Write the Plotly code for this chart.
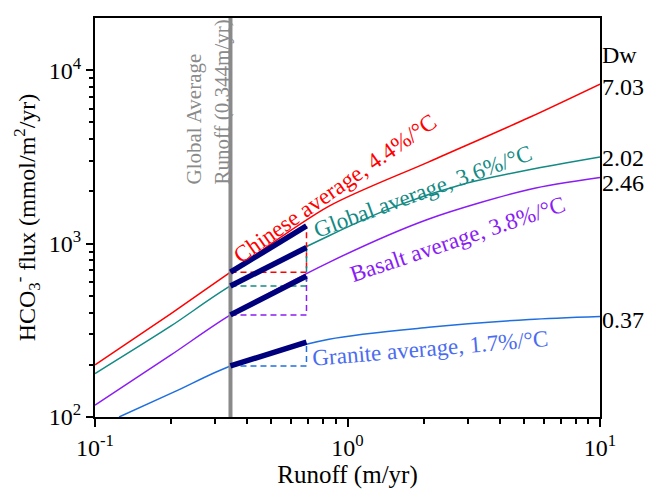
import math
import plotly.graph_objects as go

# ---------------- data ----------------
chinese_x = [0.1, 0.2, 0.344, 0.845, 2.10, 5.24, 10]
chinese_y = [200, 395, 684, 1644, 2962, 5337, 8318]

global_x = [0.1, 0.2, 0.344, 0.845, 1.556, 2.84, 5.24, 10]
global_y = [178, 335, 570, 1110, 1644, 2193, 2668, 3162]

basalt_x = [0.1, 0.2, 0.344, 0.845, 2.10, 5.24, 10]
basalt_y = [117, 228, 388, 780, 1387, 2053, 2404]

granite_x = [0.1245, 0.209, 0.344, 0.845, 2.10, 5.24, 10]
granite_y = [100, 141, 197, 281, 329, 365, 380]

series_names = ["Chinese average, 4.4%/°C", "Global average, 3.6%/°C",
                "Basalt average, 3.8%/°C", "Granite average, 1.7%/°C"]
dw_labels = ["7.03", "2.02", "2.46", "0.37"]

runoff_global = 0.344          # global average runoff (m/yr)
runoff_double = 0.688          # end of the highlighted segment
seg_start = [684, 570, 388, 197]
seg_end = [1265, 949, 649, 270]

x_tickvals = [0.1, 1, 10]
x_ticktext = ["10<sup>-1</sup>", "10<sup>0</sup>", "10<sup>1</sup>"]
y_tickvals = [100, 1000, 10000]
y_ticktext = ["10<sup>2</sup>", "10<sup>3</sup>", "10<sup>4</sup>"]

# ---------------- styles ----------------
colors = ["#ff0000", "#138a84", "#8a1cf5", "#1f6fe0"]
label_colors = ["#ff0000", "#138a84", "#8a1cf5", "#4a6cf0"]
navy = "#00007d"
gray = "#8a8a8a"
FONT = "Liberation Serif"

xs = [chinese_x, global_x, basalt_x, granite_x]
ys = [chinese_y, global_y, basalt_y, granite_y]

fig = go.Figure()

# curves
for x, y, c in zip(xs, ys, colors):
    fig.add_trace(go.Scatter(x=x, y=y, mode="lines",
                             line=dict(color=c, width=1.5, shape="spline", smoothing=0.8),
                             showlegend=False, hoverinfo="skip"))

# gray vertical global-runoff line
y_lo, y_hi = 100, 20000
fig.add_trace(go.Scatter(x=[runoff_global, runoff_global], y=[y_lo, y_hi], mode="lines",
                         line=dict(color=gray, width=4), showlegend=False, hoverinfo="skip"))

# dashed boxes
for s, e, c in zip(seg_start, seg_end, colors):
    fig.add_trace(go.Scatter(x=[runoff_global, runoff_double, runoff_double],
                             y=[s, s, e], mode="lines",
                             line=dict(color=c, width=1.5, dash="6px,4px"),
                             showlegend=False, hoverinfo="skip"))

# thick navy segments
for s, e in zip(seg_start, seg_end):
    fig.add_trace(go.Scatter(x=[runoff_global, runoff_double], y=[s, e], mode="lines",
                             line=dict(color=navy, width=5.5),
                             showlegend=False, hoverinfo="skip"))

# ---------------- annotations ----------------
L, R, T, B = 95, 600, 18, 424
W, H = R - L, B - T


def px(xp, yp):
    return (xp - L) / W, (B - yp) / H


annotations = []
label_pos = [(335, 191, -35), (423, 195, -20), (457, 243, -18.5), (430, 354, -4.8)]
for name, col, (xp, yp, ang) in zip(series_names, label_colors, label_pos):
    ax_, ay_ = px(xp, yp)
    annotations.append(dict(text=name, x=ax_, y=ay_, xref="paper", yref="paper",
                            showarrow=False, textangle=ang, xanchor="center", yanchor="middle",
                            font=dict(family=FONT, size=23, color=col)))

# vertical line label
gx, gy = px(208, 104)
annotations.append(dict(text="Global Average<br>Runoff (0.344m/yr)", x=gx, y=gy,
                        xref="paper", yref="paper", showarrow=False, textangle=-90,
                        align="left", xanchor="center", yanchor="middle",
                        font=dict(family=FONT, size=21, color=gray)))

# Dw labels at right axis
annotations.append(dict(text="Dw", x=1, y=math.log10(12300), xref="paper", yref="y",
                        showarrow=False, xanchor="left", yanchor="middle", xshift=0,
                        font=dict(family=FONT, size=24, color="black")))
dw_shift = [-3, -1, -5, -4]
for lab, y, sh in zip(dw_labels, ys, dw_shift):
    annotations.append(dict(text=lab, x=1, y=math.log10(y[-1]), xref="paper", yref="y",
                            showarrow=False, xanchor="left", yanchor="middle", xshift=0,
                            yshift=sh,
                            font=dict(family=FONT, size=24, color="black")))

minor_x = [0.2, 0.3, 0.4, 0.5, 0.6, 0.7, 0.8, 0.9, 2, 3, 4, 5, 6, 7, 8, 9]
minor_y = [200, 300, 400, 500, 600, 700, 800, 900, 2000, 3000, 4000, 5000, 6000, 7000, 8000, 9000]

fig.update_layout(
    width=651, height=494,
    margin=dict(l=L, r=651 - R, t=T, b=494 - B),
    paper_bgcolor="white", plot_bgcolor="white",
    font=dict(family=FONT, size=24, color="black"),
    annotations=annotations,
    xaxis=dict(type="log", range=[-1, 1], showgrid=False, zeroline=False,
               showline=True, linecolor="black", linewidth=2, mirror=True,
               ticks="outside", ticklen=8, tickwidth=2, tickcolor="black",
               tickmode="array", tickvals=x_tickvals, ticktext=x_ticktext,
               tickfont=dict(family=FONT, size=24),
               minor=dict(tickmode="array", tickvals=minor_x, ticks="outside",
                          ticklen=5, tickwidth=1.5, tickcolor="black"),
               title=dict(text="Runoff (m/yr)", font=dict(family=FONT, size=25), standoff=4)),
    yaxis=dict(type="log", range=[2, math.log10(20000)], showgrid=False, zeroline=False,
               showline=True, linecolor="black", linewidth=2, mirror=True,
               ticks="outside", ticklen=7, tickwidth=2, tickcolor="black",
               tickmode="array", tickvals=y_tickvals, ticktext=y_ticktext,
               tickfont=dict(family=FONT, size=24),
               minor=dict(tickmode="array", tickvals=minor_y, ticks="outside",
                          ticklen=4, tickwidth=1.5, tickcolor="black"),
               title=dict(text="HCO<sub>3</sub><sup>-</sup> flux (mmol/m<sup>2</sup>/yr)",
                          font=dict(family=FONT, size=24), standoff=6)),
)

fig.write_html("out.html")
